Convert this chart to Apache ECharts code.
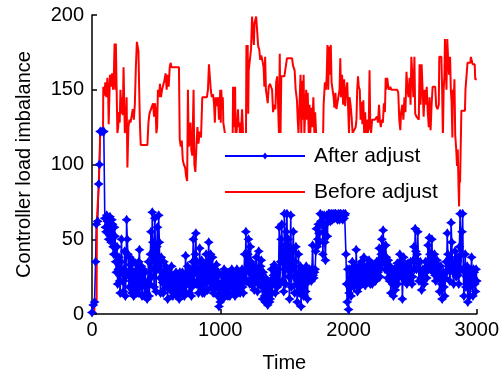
<!DOCTYPE html>
<html><head><meta charset="utf-8">
<script src="https://cdn.jsdelivr.net/npm/echarts@6/dist/echarts.min.js"></script>
<style>html,body{margin:0;padding:0;background:#fff}#c{width:502px;height:378px}</style>
</head><body><div id="c"></div>
<script>
const seriesNames = ['After adjust', 'Before adjust'];
const xTicks = [0, 1000, 2000, 3000];
const yTicks = [0, 50, 100, 150, 200];

const afterAdjust = [
[0,1],[10,6],[20,8],[28,35],[34,60],[44,62],[52,87],[58,100],[64,122],[78,122],[92,122],[100,64],
[105,58],[110,55],[115,66],[120,62],[125,54],[130,50],[135,60],[140,65],[145,52],[150,48],[155,63],[160,60],[165,45],[170,40],[175,58],[180,52],[185,35],[190,28],[195,45],
[200,20],[205,30],[210,38],[215,22],[220,14],[225,35],[230,50],[235,28],[240,22],[245,15],[250,30],[255,42],[260,12],[265,25],[270,63],[275,50],[280,40],[285,28],[290,18],[295,38],
[300,33],[305,22],[310,14],[315,36],[320,28],[325,12],[330,16],[335,25],[340,34],[345,14],[350,20],[355,30],[360,14],[365,35],[370,43],[375,18],[380,25],[385,32],[390,12],[395,20],
[400,30],[405,20],[410,12],[415,28],[420,18],[425,14],[430,10],[435,22],[440,35],[445,12],[450,20],[455,40],[460,55],[465,25],[470,68],[475,48],[480,30],[485,18],[490,64],[495,40],
[500,15],[505,45],[510,58],[515,30],[520,66],[525,48],[530,24],[535,14],[540,38],[545,28],[550,21],[555,14],[560,35],[565,26],[570,17],[575,32],[580,30],[585,20],[590,10],[595,24],
[600,28],[605,20],[610,16],[615,26],[620,32],[625,18],[630,12],[635,24],[640,26],[645,14],[650,24],[655,28],[660,18],[665,12],[670,26],[675,20],[680,10],[685,28],[690,25],[695,14],
[700,16],[705,28],[710,26],[715,18],[720,12],[725,25],[730,39],[735,14],[740,22],[745,32],[750,28],[755,20],[760,14],[765,26],[770,30],[775,12],[780,18],[785,35],[790,50],[795,22],
[800,28],[805,40],[810,54],[815,20],[820,35],[825,26],[830,14],[835,30],[840,44],[845,18],[850,25],[855,36],[860,14],[865,24],[870,33],[875,14],[880,20],[885,30],[890,40],[895,25],
[900,16],[905,35],[910,48],[915,22],[920,30],[925,40],[930,18],[935,26],[940,38],[945,14],[950,24],[955,30],[960,17],[965,24],[970,33],[975,18],[980,12],[985,28],[990,5],[995,20],
[1000,8],[1005,18],[1010,26],[1015,14],[1020,10],[1025,22],[1030,30],[1035,12],[1040,15],[1045,28],[1050,24],[1055,16],[1060,12],[1065,20],[1070,28],[1075,12],[1080,18],[1085,26],[1090,30],[1095,20],
[1100,14],[1105,24],[1110,27],[1115,12],[1120,18],[1125,25],[1130,30],[1135,20],[1140,15],[1145,28],[1150,25],[1155,14],[1160,20],[1165,26],[1170,30],[1175,18],[1180,14],[1185,28],[1190,40],[1195,22],
[1200,55],[1205,22],[1210,30],[1215,40],[1220,50],[1225,28],[1230,20],[1235,45],[1240,35],[1245,24],[1250,19],[1255,28],[1260,32],[1265,16],[1270,22],[1275,30],[1280,38],[1285,25],[1290,15],[1295,30],
[1300,42],[1305,20],[1310,25],[1315,32],[1320,36],[1325,18],[1330,10],[1335,28],[1340,20],[1345,12],[1350,8],[1355,24],[1360,18],[1365,12],[1370,6],[1375,20],[1380,15],[1385,8],[1390,10],[1395,22],
[1400,30],[1405,14],[1410,20],[1415,26],[1420,33],[1425,20],[1430,14],[1435,30],[1440,28],[1445,18],[1450,22],[1455,30],[1460,58],[1465,20],[1470,35],[1475,50],[1480,60],[1485,22],[1490,45],[1495,15],
[1500,67],[1505,40],[1510,20],[1515,55],[1520,67],[1525,30],[1530,50],[1535,25],[1540,10],[1545,45],[1550,66],[1555,18],[1560,30],[1565,42],[1570,55],[1575,25],[1580,14],[1585,35],[1590,45],[1595,20],
[1600,8],[1605,26],[1610,40],[1615,14],[1620,20],[1625,32],[1630,5],[1635,18],[1640,30],[1645,22],[1650,12],[1655,28],[1660,25],[1665,15],[1670,32],[1675,22],[1680,10],[1685,28],[1690,22],[1695,30],
[1700,28],[1705,24],[1710,22],[1715,30],[1720,46],[1725,26],[1730,24],[1735,28],[1740,30],[1745,42],[1750,57],[1755,45],[1760,50],[1765,60],[1770,54],[1775,48],[1780,67],[1785,62],[1790,60],[1795,66],
[1800,40],[1805,55],[1810,66],[1815,48],[1820,36],[1825,60],[1830,66],[1835,52],[1840,64],[1845,67],[1850,67],[1855,64],[1860,62],[1865,67],[1870,66],[1875,63],[1880,67],[1885,66],[1890,64],[1895,67],
[1900,67],[1905,64],[1910,66],[1915,63],[1920,67],[1925,66],[1930,63],[1935,67],[1940,67],[1945,64],[1950,66],[1955,63],[1960,67],[1965,64],[1970,66],[1975,67],[1980,40],[1985,20],[1990,8],[1995,30],
[2000,3],[2005,14],[2010,30],[2015,22],[2020,12],[2025,28],[2030,35],[2035,24],[2040,18],[2045,32],[2050,28],[2055,20],[2060,43],[2065,30],[2070,15],[2075,25],[2080,32],[2085,18],[2090,20],[2095,28],
[2100,35],[2105,28],[2110,22],[2115,32],[2120,38],[2125,26],[2130,19],[2135,28],[2140,32],[2145,22],[2150,25],[2155,32],[2160,36],[2165,26],[2170,20],[2175,34],[2180,30],[2185,20],[2190,24],[2195,30],
[2200,33],[2205,26],[2210,22],[2215,30],[2220,35],[2225,24],[2230,28],[2235,36],[2240,44],[2245,25],[2250,30],[2255,40],[2260,50],[2265,34],[2270,56],[2275,45],[2280,38],[2285,30],[2290,46],[2295,38],
[2300,30],[2305,24],[2310,36],[2315,28],[2320,22],[2325,32],[2330,14],[2335,22],[2340,28],[2345,20],[2350,12],[2355,24],[2360,30],[2365,16],[2370,20],[2375,28],[2380,34],[2385,20],[2390,24],[2395,32],
[2400,40],[2405,32],[2410,26],[2415,36],[2420,10],[2425,24],[2430,38],[2435,28],[2440,22],[2445,30],[2450,33],[2455,20],[2460,24],[2465,34],[2470,30],[2475,26],[2480,22],[2485,35],[2490,30],[2495,20],
[2500,25],[2505,36],[2510,45],[2515,30],[2520,57],[2525,42],[2530,30],[2535,40],[2540,55],[2545,35],[2550,22],[2555,30],[2560,35],[2565,24],[2570,16],[2575,28],[2580,30],[2585,24],[2590,20],[2595,30],
[2600,35],[2605,28],[2610,24],[2615,32],[2620,46],[2625,36],[2630,51],[2635,40],[2640,30],[2645,38],[2650,50],[2655,34],[2660,28],[2665,32],[2670,40],[2675,26],[2680,22],[2685,30],[2690,36],[2695,24],
[2700,25],[2705,32],[2710,15],[2715,24],[2720,32],[2725,20],[2730,10],[2735,26],[2740,28],[2745,18],[2750,12],[2755,24],[2760,35],[2765,28],[2770,54],[2775,40],[2780,30],[2785,36],[2790,22],[2795,30],
[2800,61],[2805,48],[2810,35],[2815,28],[2820,20],[2825,32],[2830,42],[2835,30],[2840,25],[2845,38],[2850,35],[2855,26],[2860,20],[2865,45],[2870,67],[2875,30],[2880,40],[2885,55],[2890,67],[2895,30],
[2900,12],[2905,28],[2910,40],[2915,18],[2920,25],[2925,32],[2930,8],[2935,22],[2940,30],[2945,12],[2950,18],[2955,28],[2960,38],[2965,22],[2970,12],[2975,30],[2980,28],[2985,20],[2990,15],[2995,30],[3000,22]
];

const beforeAdjust = [
[0,1],[18,1],[20,8],[36,8],[38,63],[52,63],[54,88],[62,88],[64,121],[86,121],[88,152],[96,146],[104,155],[112,145],[120,158],[126,148],[130,127],[136,127],[140,160],[148,152],[156,161],[164,150],[170,158],[176,181],[182,150],[186,181],[196,181],[198,121],[204,125],[210,135],[216,128],[222,150],[228,134],[234,145],[240,133],[246,165],[252,165],[256,121],[264,128],[270,145],[276,98],[280,98],[284,125],[292,130],[300,128],[310,133],[318,137],[326,130],[334,140],[342,165],[350,182],[356,182],[362,176],[368,150],[374,126],[380,113],[432,113],[440,128],[448,134],[460,137],[476,141],[484,132],[490,141],[496,137],[502,121],[508,125],[514,150],[522,145],[530,154],[538,145],[546,150],[554,151],[564,156],[574,161],[582,150],[590,160],[598,152],[606,165],[614,168],[620,165],[640,165],[678,165],[684,117],[692,112],[700,116],[708,103],[716,100],[726,98],[734,92],[742,89],[748,150],[754,112],[762,115],[768,128],[774,110],[782,106],[792,150],[798,100],[806,95],[814,112],[822,125],[830,114],[840,122],[850,118],[860,145],[872,145],[896,145],[904,150],[912,167],[920,167],[926,150],[934,145],[944,147],[952,140],[958,128],[964,145],[972,139],[982,145],[990,130],
[1000,150],[1004,128],[1008,150],[1014,140],[1020,145],[1024,128],[1030,127],[1036,121],[1040,110],[1096,110],[1100,152],[1108,152],[1112,125],[1116,152],[1120,110],[1134,110],[1138,137],[1144,125],[1150,128],[1156,110],[1166,110],[1170,137],[1176,125],[1180,110],[1200,110],[1204,180],[1210,150],[1214,180],[1218,134],[1222,163],[1234,163],[1240,177],[1248,199],[1256,199],[1262,180],[1268,195],[1274,195],[1280,199],[1290,199],[1296,179],[1304,177],[1312,170],[1320,173],[1330,169],[1338,165],[1344,152],[1350,172],[1356,150],[1364,145],[1370,141],[1378,152],[1388,154],[1396,155],[1404,150],[1412,135],[1422,140],[1430,137],[1436,155],[1444,159],[1452,159],[1458,120],[1464,174],[1470,120],[1476,159],[1490,159],[1500,159],[1520,171],[1560,171],[1568,166],[1580,163],[1588,150],[1598,143],[1604,130],[1610,121],[1620,120],[1626,160],[1632,120],[1638,156],[1644,130],[1650,160],[1656,120],[1664,140],[1670,150],[1676,130],[1682,148],[1690,120],[1696,140],[1702,121],[1710,138],[1718,125],[1726,145],[1734,121],[1740,135],[1748,120],[1754,110],[1800,110],[1806,140],[1816,155],[1824,150],[1830,159],[1836,180],[1842,150],[1848,179],[1856,160],[1862,180],[1868,155],[1876,150],[1884,145],[1890,138],[1898,148],[1906,137],[1920,137],[1930,150],[1936,171],[1942,145],[1950,160],[1958,140],[1966,157],[1974,139],[1982,150],[1990,155],
[2000,155],[2004,121],[2008,145],[2016,140],[2024,132],[2032,121],[2044,121],[2056,125],[2062,130],[2068,150],[2074,159],[2080,152],[2088,150],[2094,130],[2102,142],[2108,127],[2116,143],[2122,121],[2130,135],[2136,121],[2144,130],[2150,121],[2158,125],[2164,163],[2170,125],[2176,121],[2184,130],[2196,130],[2206,130],[2214,130],[2222,132],[2230,128],[2238,140],[2244,130],[2252,125],[2260,130],[2268,128],[2276,141],[2284,135],[2290,158],[2296,150],[2302,158],[2310,152],[2318,150],[2326,152],[2334,150],[2360,150],[2380,150],[2388,148],[2396,130],[2404,123],[2410,135],[2420,140],[2428,130],[2436,145],[2444,135],[2452,162],[2460,150],[2468,145],[2476,158],[2484,140],[2490,172],[2500,172],[2506,145],[2514,172],[2520,134],[2530,132],[2540,132],[2548,130],[2554,167],[2562,140],[2570,167],[2578,150],[2586,132],[2594,150],[2602,140],[2610,152],[2618,135],[2626,125],[2632,145],[2640,123],[2648,140],[2656,152],[2676,152],[2684,139],[2694,137],[2704,140],[2708,172],[2724,172],[2730,150],
[2736,118],[2742,150],[2748,160],[2752,184],[2760,184],[2764,150],[2770,184],[2776,172],[2784,160],[2792,172],[2798,150],[2804,141],[2810,118],[2814,150],[2820,141],[2826,157],[2832,120],[2840,110],[2846,99],[2852,110],[2858,85],[2862,72],[2866,95],[2870,88],[2876,88],[2880,136],[2908,136],[2912,150],[2924,150],[2928,168],[2950,168],[2954,172],[2964,172],[2968,167],[2984,167],[2988,157],[3000,157]
];

const font = '"Liberation Sans", Arial, sans-serif';
const chart = echarts.init(document.getElementById('c'), null, {renderer: 'canvas'});
const axisCommon = {
  axisLine: {show: true, onZero: false, lineStyle: {color: '#000', width: 1.5}},
  axisTick: {show: true, inside: true, length: 5, lineStyle: {color: '#000', width: 1.5}},
  splitLine: {show: false},
  nameTextStyle: {fontSize: 20, color: '#000', fontFamily: font}
};
chart.setOption({
  animation: false,
  backgroundColor: '#fff',
  grid: {left: 92, right: 23, top: 15, bottom: 63},
  xAxis: Object.assign({
    type: 'value', min: xTicks[0], max: xTicks[xTicks.length - 1], interval: 1000,
    name: 'Time', nameLocation: 'middle', nameGap: 39,
    axisLabel: {fontSize: 20, color: '#000', fontFamily: font, margin: 6, formatter: v => String(v)}
  }, axisCommon),
  yAxis: Object.assign({
    type: 'value', min: yTicks[0], max: yTicks[yTicks.length - 1], interval: 50,
    name: 'Controller load imbalance', nameLocation: 'middle', nameGap: 58,
    axisLabel: {fontSize: 20, color: '#000', fontFamily: font, margin: 8, formatter: v => String(v)}
  }, axisCommon),
  legend: {
    orient: 'vertical', left: 206, top: 133,
    backgroundColor: '#fff', borderWidth: 0,
    padding: [11, 10, 5, 18],
    itemWidth: 80, itemHeight: 9, itemGap: 12,
    textStyle: {fontSize: 21, color: '#000', fontFamily: font, lineHeight: 24, padding: [0, 0, 0, 4]},
    data: [
      {name: seriesNames[0]},
      {name: seriesNames[1], itemStyle: {opacity: 0}}
    ]
  },
  series: [
    {
      name: seriesNames[0], type: 'line', data: afterAdjust,
      symbol: 'path://M0,-5L2,-2L5,0L2,2L0,5L-2,2L-5,0L-2,-2Z',
      symbolSize: 10, showSymbol: true, showAllSymbol: true,
      lineStyle: {color: '#0000ff', width: 1.6},
      itemStyle: {color: '#0000ff'},
      emphasis: {disabled: true}
    },
    {
      name: seriesNames[1], type: 'line', data: beforeAdjust,
      symbol: 'none', showSymbol: false,
      lineStyle: {color: '#ff0000', width: 2},
      itemStyle: {color: '#ff0000'},
      emphasis: {disabled: true}
    }
  ]
});
</script></body></html>
